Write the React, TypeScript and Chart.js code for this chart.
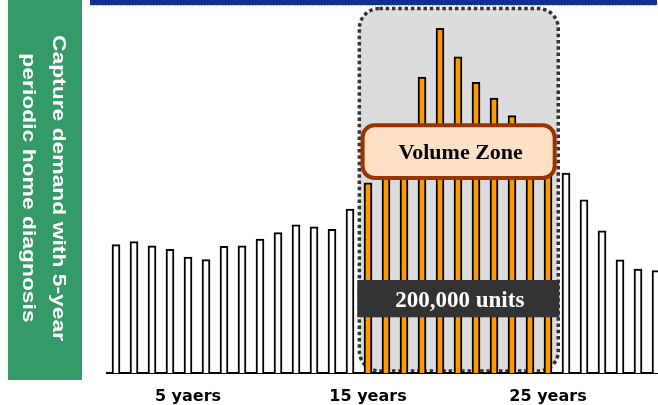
import React, { useEffect, useRef } from 'react';
import { Chart, registerables } from 'chart.js';

Chart.register(...registerables);

// ---- data ----
const YEARS = [1, 2, 3, 4, 5, 6, 7, 8, 9, 10, 11, 12, 13, 14, 15, 16, 17, 18, 19, 20, 21, 22, 23, 24, 25, 26, 27, 28, 29, 30, 31];
const DEMAND = [
  42.8, 43.8, 42.4, 41.2, 38.6, 37.8, 42.2, 42.4, 44.6, 46.8, 49.4, 48.7, 47.9, 54.6,
  63.4, 72.0, 81.0, 98.6, 114.9, 105.4, 96.9, 91.6, 85.8, 78.0, 69.0,
  66.6, 57.7, 47.4, 37.7, 34.6, 34.1,
];
const TICK_YEARS = [5, 15, 25];
const TICK_TEXT = ['5 yaers', '15 years', '25 years'];
const ZONE_FIRST_YEAR = 15;
const ZONE_LAST_YEAR = 25;
const ZONE_TITLE = 'Volume Zone';
const ZONE_UNITS = '200,000 units';
const BANNER_LINES = ['Capture demand with 5-year', 'periodic home diagnosis'];

const W = 680;
const H = 405;

function rrect(ctx: CanvasRenderingContext2D, x1: number, y1: number, x2: number, y2: number, r: number) {
  ctx.beginPath();
  ctx.moveTo(x1 + r, y1);
  ctx.lineTo(x2 - r, y1);
  ctx.arcTo(x2, y1, x2, y1 + r, r);
  ctx.lineTo(x2, y2 - r);
  ctx.arcTo(x2, y2, x2 - r, y2, r);
  ctx.lineTo(x1 + r, y2);
  ctx.arcTo(x1, y2, x1, y2 - r, r);
  ctx.lineTo(x1, y1 + r);
  ctx.arcTo(x1, y1, x1 + r, y1, r);
  ctx.closePath();
}

const zoneIdx = () => [YEARS.indexOf(ZONE_FIRST_YEAR), YEARS.indexOf(ZONE_LAST_YEAR)];

const decor = {
  id: 'decor',
  beforeDraw(chart: any) {
    const ctx: CanvasRenderingContext2D = chart.ctx;
    const xs = chart.scales.x;
    const ca = chart.chartArea;
    ctx.save();
    // green banner
    ctx.fillStyle = '#349a68';
    ctx.fillRect(8, 0, 74, 380);
    ctx.save();
    ctx.translate(45, 188);
    ctx.rotate(Math.PI / 2);
    ctx.scale(1.27, 1);
    ctx.fillStyle = '#ffffff';
    ctx.font = 'bold 18px "Liberation Sans", Arial, sans-serif';
    ctx.textAlign = 'center';
    ctx.textBaseline = 'alphabetic';
    ctx.fillText(BANNER_LINES[0], 0, -7.5);
    ctx.fillText(BANNER_LINES[1], 0, 22.3);
    ctx.restore();
    // top blue bar
    ctx.fillStyle = '#112e92';
    ctx.fillRect(90, 0, 567, 5);
    ctx.strokeStyle = '#f5a020';
    ctx.lineWidth = 1;
    ctx.setLineDash([1.5, 1.5]);
    ctx.beginPath();
    ctx.moveTo(90, 5.5);
    ctx.lineTo(657, 5.5);
    ctx.stroke();
    // grey zone box
    const [a, b] = zoneIdx();
    const step = xs.getPixelForValue(1) - xs.getPixelForValue(0);
    const zl = xs.getPixelForValue(a);
    const zr = xs.getPixelForValue(b);
    rrect(ctx, zl - 0.48 * step, 8.5, zr + 0.57 * step, ca.bottom - 2, 20);
    ctx.fillStyle = '#dcdcdc';
    ctx.fill();
    ctx.setLineDash([3.5, 2.8]);
    ctx.lineWidth = 3.5;
    ctx.strokeStyle = '#333333';
    ctx.stroke();
    ctx.restore();
  },
  afterDatasetsDraw(chart: any) {
    const ctx: CanvasRenderingContext2D = chart.ctx;
    const xs = chart.scales.x;
    const [a, b] = zoneIdx();
    const step = xs.getPixelForValue(1) - xs.getPixelForValue(0);
    const zl = xs.getPixelForValue(a);
    const zr = xs.getPixelForValue(b);
    ctx.save();
    // Volume Zone label
    const vx1 = zl - 0.3 * step;
    const vx2 = zr + 0.37 * step;
    rrect(ctx, vx1, 125.3, vx2, 178, 12);
    ctx.fillStyle = '#fde0c6';
    ctx.fill();
    ctx.lineWidth = 4;
    ctx.strokeStyle = '#993300';
    ctx.stroke();
    ctx.fillStyle = '#000000';
    ctx.font = 'bold 22px "Liberation Serif", "Times New Roman", serif';
    ctx.textAlign = 'center';
    ctx.textBaseline = 'alphabetic';
    ctx.fillText(ZONE_TITLE, (vx1 + vx2) / 2 + 2, 158.5);
    // units label
    const ux1 = zl - 0.595 * step;
    const ux2 = zr + 0.63 * step;
    ctx.fillStyle = '#333333';
    ctx.fillRect(ux1, 280, ux2 - ux1, 37.3);
    ctx.fillStyle = '#ffffff';
    ctx.font = 'bold 23px "Liberation Serif", "Times New Roman", serif';
    ctx.fillText(ZONE_UNITS, (ux1 + ux2) / 2 + 1.5, 306.7);
    ctx.restore();
  },
};

export default function App() {
  const ref = useRef<HTMLCanvasElement | null>(null);
  useEffect(() => {
    if (!ref.current) return;
    const [a, b] = zoneIdx();
    const colors = YEARS.map((_, i) => (i >= a && i <= b ? '#ff9900' : '#ffffff'));
    const chart = new Chart(ref.current, {
      type: 'bar',
      data: {
        labels: YEARS.map(String),
        datasets: [
          {
            data: DEMAND,
            backgroundColor: colors,
            borderColor: '#000000',
            borderWidth: 2,
            barThickness: 8,
          },
        ],
      },
      options: {
        responsive: false,
        devicePixelRatio: 1,
        animation: false,
        events: [],
        layout: { padding: { left: 107, right: 15, top: 13, bottom: 0 } },
        plugins: { legend: { display: false }, tooltip: { enabled: false }, title: { display: false } },
        scales: {
          x: {
            type: 'category',
            grid: { display: false, drawTicks: false },
            border: { display: true, color: '#000000', width: 2 },
            ticks: {
              autoSkip: false,
              maxRotation: 0,
              minRotation: 0,
              padding: 14,
              color: '#000000',
              font: { family: '"DejaVu Sans", Verdana, sans-serif', weight: 'bold', size: 16 },
              callback: (_v: any, i: number) => {
                const k = TICK_YEARS.indexOf(YEARS[i]);
                return k >= 0 ? TICK_TEXT[k] : '';
              },
            },
            afterFit: (s: any) => {
              s.height = 32;
            },
          },
          y: { display: false, min: 0, max: 120 },
        },
      },
      plugins: [decor],
    });
    return () => chart.destroy();
  }, []);
  return (
    <div style={{ position: 'fixed', left: 0, top: 0, width: 658, height: 405, overflow: 'hidden', background: '#ffffff' }}>
      <canvas ref={ref} width={W} height={H} style={{ display: 'block', width: W, height: H }} />
    </div>
  );
}
